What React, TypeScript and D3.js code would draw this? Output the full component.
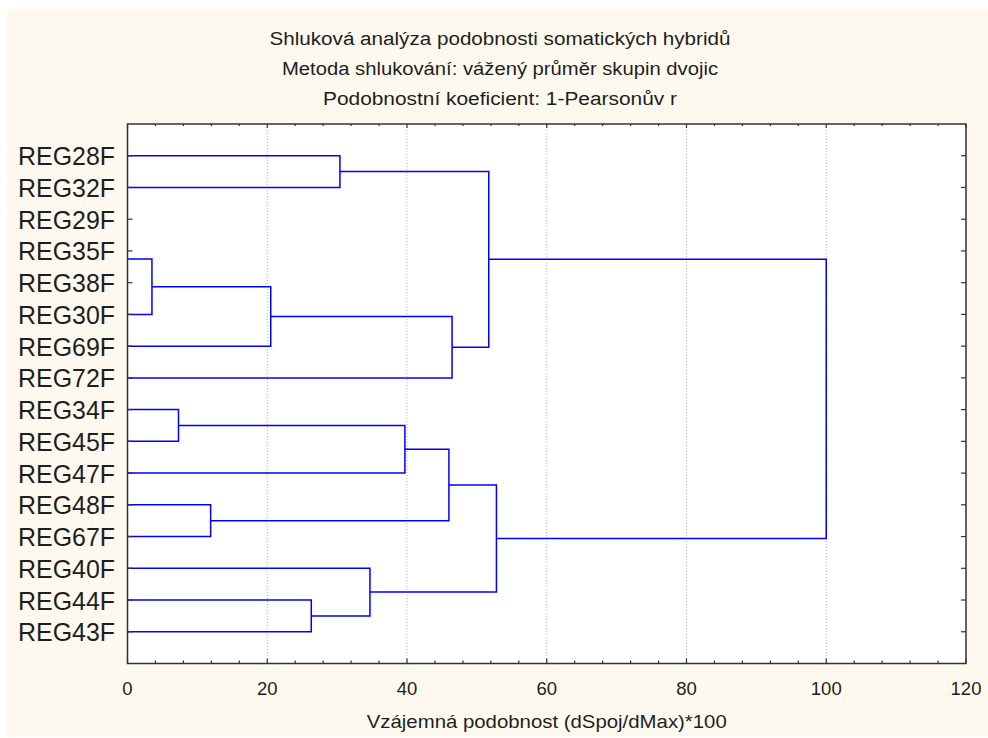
import * as d3 from 'd3';
import { useRef, useEffect } from 'react';

// leaves, top to bottom
const leaves = ['REG28F', 'REG32F', 'REG29F', 'REG35F', 'REG38F', 'REG30F', 'REG69F', 'REG72F',
    'REG34F', 'REG45F', 'REG47F', 'REG48F', 'REG67F', 'REG40F', 'REG44F', 'REG43F'];

// amalgamation schedule: [left, right, linkage distance]; 'm<n>' refers to an earlier merge
const merges: [string, string, number][] = [
    ['REG29F', 'REG35F', 0],
    ['m0', 'REG38F', 0],
    ['m1', 'REG30F', 3.5],
    ['REG34F', 'REG45F', 7.3],
    ['REG48F', 'REG67F', 11.9],
    ['m2', 'REG69F', 20.5],
    ['REG44F', 'REG43F', 26.3],
    ['REG28F', 'REG32F', 30.4],
    ['REG40F', 'm6', 34.7],
    ['m3', 'REG47F', 39.7],
    ['m9', 'm4', 46.0],
    ['m5', 'REG72F', 46.45],
    ['m7', 'm11', 51.7],
    ['m10', 'm8', 52.8],
    ['m12', 'm13', 100]
];

const titleLines = [
    'Shluková analýza podobnosti somatických hybridů',
    'Metoda shlukování: vážený průměr skupin dvojic',
    'Podobnostní koeficient: 1-Pearsonův r'
];
const titleWidths = [461, 436, 354];
const xTicks = [0, 20, 40, 60, 80, 100, 120];
const xTitle = 'Vzájemná podobnost (dSpoj/dMax)*100';

export default function App() {
    const ref = useRef<SVGSVGElement>(null);

    useEffect(() => {
        const width = 988;
        const height = 738;
        const font = '"Liberation Sans", Arial, sans-serif';
        const plot = { left: 127.5, right: 966, top: 124, bottom: 663.5 };

        const svg = d3.select(ref.current)
            .attr('width', width)
            .attr('height', height);
        svg.selectAll('*').remove();

        svg.append('rect').attr('width', width).attr('height', height).attr('fill', '#fff');
        svg.append('rect')
            .attr('x', 7).attr('y', 10)
            .attr('width', width - 7).attr('height', 727)
            .attr('fill', '#fef9ef');
        svg.append('rect')
            .attr('x', plot.left).attr('y', plot.top)
            .attr('width', plot.right - plot.left).attr('height', plot.bottom - plot.top)
            .attr('fill', '#fff');

        const xScale = d3.scaleLinear().domain([0, 120]).range([plot.left, plot.right]);
        const yScale = d3.scaleLinear().domain([0, leaves.length + 1]).range([plot.top, plot.bottom]);

        // grid
        svg.append('g')
            .selectAll('line')
            .data(xTicks.filter(t => t > 0 && t < 120))
            .enter().append('line')
            .attr('x1', d => xScale(d)).attr('x2', d => xScale(d))
            .attr('y1', plot.top).attr('y2', plot.bottom)
            .attr('stroke', '#b4b4b4')
            .attr('stroke-dasharray', '1,2');

        // node positions
        const nodes = new Map<string, { y: number, h: number }>();
        leaves.forEach((name, i) => nodes.set(name, { y: i + 1, h: 0 }));
        const links: string[] = [];
        merges.forEach(([a, b, h], i) => {
            const na = nodes.get(a)!;
            const nb = nodes.get(b)!;
            nodes.set('m' + i, { y: (na.y + nb.y) / 2, h });
            if (h === 0) return; // zero-distance joins sit on the axis
            const p = d3.path();
            p.moveTo(xScale(na.h), yScale(na.y));
            p.lineTo(xScale(h), yScale(na.y));
            p.lineTo(xScale(h), yScale(nb.y));
            p.lineTo(xScale(nb.h), yScale(nb.y));
            links.push(p.toString());
        });

        svg.append('g')
            .selectAll('path')
            .data(links)
            .enter().append('path')
            .attr('d', d => d)
            .attr('fill', 'none')
            .attr('stroke', '#0000ff')
            .attr('stroke-width', 1.5);

        // frame and ticks
        const axisColor = '#333';
        svg.append('rect')
            .attr('x', plot.left).attr('y', plot.top)
            .attr('width', plot.right - plot.left).attr('height', plot.bottom - plot.top)
            .attr('fill', 'none')
            .attr('stroke', axisColor)
            .attr('stroke-width', 1.5);

        const ticks = svg.append('g').attr('stroke', axisColor).attr('stroke-width', 1.2);
        const minor = d3.range(0, 121, 4);
        minor.forEach(v => {
            const major = v % 20 === 0;
            ticks.append('line')
                .attr('x1', xScale(v)).attr('x2', xScale(v))
                .attr('y1', plot.bottom).attr('y2', plot.bottom - (major ? 5 : 3));
            ticks.append('line')
                .attr('x1', xScale(v)).attr('x2', xScale(v))
                .attr('y1', plot.top).attr('y2', plot.top + (major ? 4 : 2));
        });
        leaves.forEach((_, i) => {
            const y = yScale(i + 1);
            ticks.append('line').attr('x1', plot.left).attr('x2', plot.left + 5).attr('y1', y).attr('y2', y);
            ticks.append('line').attr('x1', plot.right).attr('x2', plot.right - 5).attr('y1', y).attr('y2', y);
        });

        // leaf labels
        svg.append('g')
            .selectAll('text')
            .data(leaves)
            .enter().append('text')
            .attr('x', 115)
            .attr('y', (d, i) => yScale(i + 1) + 9.5)
            .attr('text-anchor', 'end')
            .attr('textLength', 97)
            .attr('lengthAdjust', 'spacingAndGlyphs')
            .style('font-family', font)
            .style('font-size', '26px')
            .style('fill', '#1e1e1e')
            .text(d => d);

        // x tick labels
        svg.append('g')
            .selectAll('text')
            .data(xTicks)
            .enter().append('text')
            .attr('x', d => xScale(d))
            .attr('y', 695)
            .attr('text-anchor', 'middle')
            .style('font-family', font)
            .style('font-size', '18.5px')
            .style('fill', '#1e1e1e')
            .text(d => d);

        // x axis title
        svg.append('text')
            .attr('x', (plot.left + plot.right) / 2)
            .attr('y', 728)
            .attr('text-anchor', 'middle')
            .attr('textLength', 360)
            .attr('lengthAdjust', 'spacingAndGlyphs')
            .style('font-family', font)
            .style('font-size', '18.5px')
            .style('fill', '#1e1e1e')
            .text(xTitle);

        // title
        svg.append('g')
            .selectAll('text')
            .data(titleLines)
            .enter().append('text')
            .attr('x', 500)
            .attr('y', (d, i) => 45 + i * 30)
            .attr('text-anchor', 'middle')
            .attr('textLength', (d, i) => titleWidths[i])
            .attr('lengthAdjust', 'spacingAndGlyphs')
            .style('font-family', font)
            .style('font-size', '18px')
            .style('fill', '#1e1e1e')
            .text(d => d);
    }, []);

    return (
        <svg ref={ref} style={{ position: 'absolute', left: 0, top: 0, display: 'block' }}></svg>
    );
}
